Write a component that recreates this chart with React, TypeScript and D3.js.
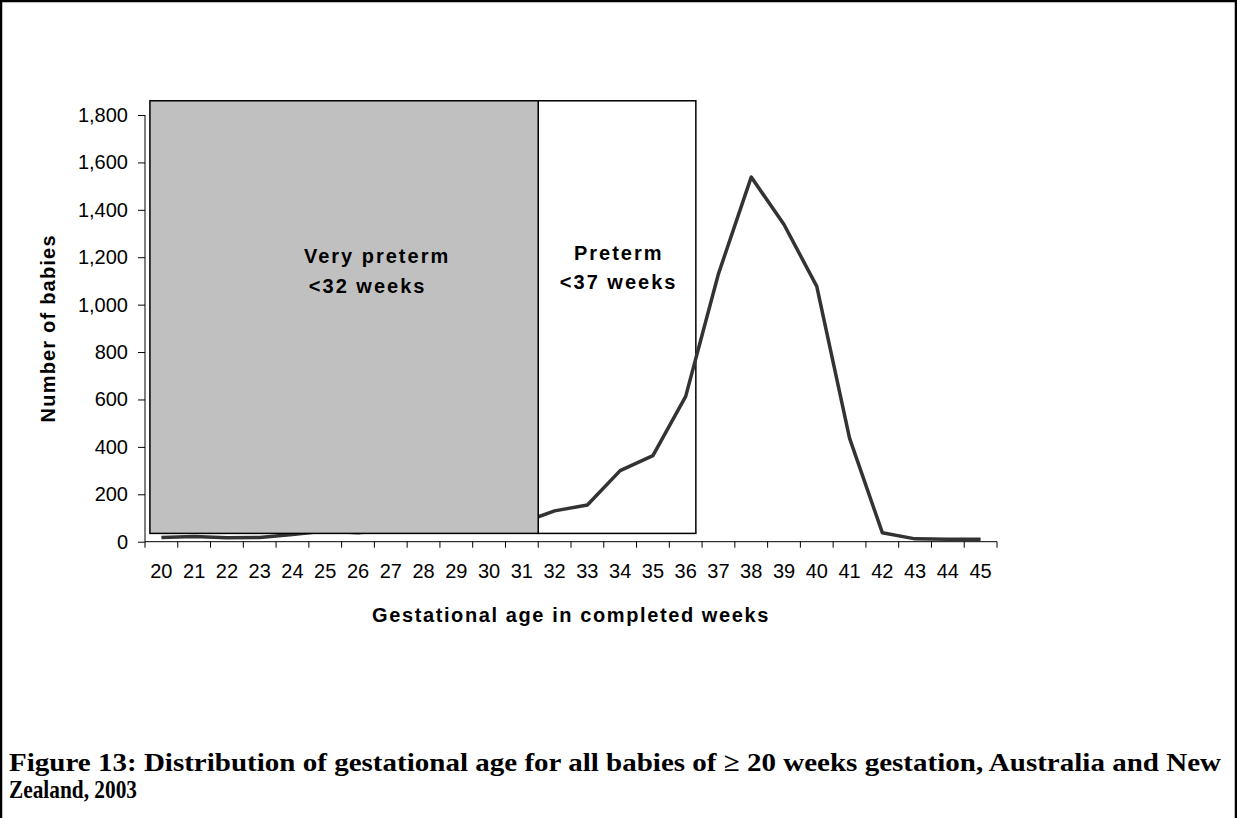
import { useEffect, useRef } from "react";
import * as d3 from "d3";

// gestational age in completed weeks
const weeks = [20, 21, 22, 23, 24, 25, 26, 27, 28, 29, 30, 31, 32, 33, 34, 35, 36, 37, 38, 39, 40, 41, 42, 43, 44, 45];
// number of babies
const babies = [18, 22, 17, 18, 30, 45, 38, 50, 55, 60, 75, 80, 130, 155, 300, 363, 613, 1130, 1538, 1338, 1077, 437, 38, 12, 10, 10];

const yTicks = [0, 200, 400, 600, 800, 1000, 1200, 1400, 1600, 1800];

// shaded regions: [x from, x to] in weeks, [y from, y to] in babies
const veryPretermBox = { x0: 19.65, x1: 31.5, y0: 35, y1: 1860 };
const pretermBox = { x0: 31.5, x1: 36.31, y0: 35, y1: 1860 };

const boxLabels = [
  { lines: ["Very preterm", "<32 weeks"], x: [24.35, 24.5], y: [1175, 1050] },
  { lines: ["Preterm", "<37 weeks"], x: [32.59, 32.16], y: [1190, 1065] },
];

const titleLines = [
  "Figure 13: Distribution of gestational age for all babies of \u2265 20 weeks gestation, Australia and New",
  "Zealand, 2003",
];

const W = 1237;
const H = 818;
const SANS = "'Liberation Sans', Arial, sans-serif";

export default function App() {
  const ref = useRef<SVGSVGElement>(null);

  useEffect(() => {
    if (!ref.current) return;
    const svg = d3.select(ref.current);
    svg.selectAll("*").remove();

    const x = d3.scaleLinear().domain([19.5, 45.5]).range([145, 997]);
    const y = d3.scaleLinear().domain([0, 1800]).range([541.7, 115]);

    svg.append("rect").attr("width", W).attr("height", H).attr("fill", "#fff");

    // frame
    svg.append("path")
      .attr("d", `M1,${H} V1 H${W - 1} V${H}`)
      .attr("fill", "none").attr("stroke", "#000").attr("stroke-width", 2.5);

    // preterm box (white)
    svg.append("rect")
      .attr("x", x(pretermBox.x0)).attr("y", y(pretermBox.y1))
      .attr("width", x(pretermBox.x1) - x(pretermBox.x0))
      .attr("height", y(pretermBox.y0) - y(pretermBox.y1))
      .attr("fill", "#fff").attr("stroke", "#000").attr("stroke-width", 1.5);

    // ── Line ──
    const pts = weeks.map((w, i) => ({ w, v: babies[i] }));
    const line = d3.line<{ w: number; v: number }>()
      .x((d) => x(d.w))
      .y((d) => y(d.v));
    svg.append("path").datum(pts)
      .attr("d", line)
      .attr("fill", "none")
      .attr("stroke", "#333")
      .attr("stroke-width", 3.5)
      .attr("stroke-linejoin", "round");

    // very preterm box (grey, covers the line)
    svg.append("rect")
      .attr("x", x(veryPretermBox.x0)).attr("y", y(veryPretermBox.y1))
      .attr("width", x(veryPretermBox.x1) - x(veryPretermBox.x0))
      .attr("height", y(veryPretermBox.y0) - y(veryPretermBox.y1))
      .attr("fill", "#c0c0c0").attr("stroke", "#000").attr("stroke-width", 1.5);

    // box labels
    boxLabels.forEach((b) => {
      b.lines.forEach((t, i) => {
        svg.append("text")
          .attr("x", x(b.x[i])).attr("y", y(b.y[i]))
          .attr("font-family", SANS).attr("font-size", 20).attr("font-weight", "bold")
          .attr("letter-spacing", 2)
          .attr("fill", "#000")
          .text(t);
      });
    });

    // ── Y axis ──
    const gy = svg.append("g").attr("transform", "translate(145,0)");
    gy.call(d3.axisLeft(y).tickValues(yTicks).tickSize(7).tickPadding(10)
      .tickFormat((v) => d3.format(",")(Number(v))))
      .call((ag) => ag.select(".domain").attr("d", `M0,${y(1800)}V${y(0)}`).attr("stroke", "#000"))
      .call((ag) => ag.selectAll(".tick line").attr("stroke", "#000"))
      .call((ag) => ag.selectAll(".tick text")
        .attr("font-family", SANS).attr("font-size", 20).attr("fill", "#000"));

    svg.append("text")
      .attr("transform", `translate(55,${(y(0) + y(1800)) / 2}) rotate(-90)`)
      .attr("text-anchor", "middle")
      .attr("font-family", SANS).attr("font-size", 20).attr("font-weight", "bold")
      .attr("letter-spacing", 1.2)
      .text("Number of babies");

    // ── X axis ──
    const boundaries = d3.range(19.5, 46, 1);
    const gx = svg.append("g").attr("transform", `translate(0,${y(0)})`);
    gx.append("line")
      .attr("x1", x(19.5)).attr("x2", x(45.5))
      .attr("stroke", "#000").attr("stroke-width", 1);
    gx.selectAll(".xt").data(boundaries).join("line")
      .attr("x1", (d) => x(d)).attr("x2", (d) => x(d))
      .attr("y1", 0).attr("y2", 6)
      .attr("stroke", "#000");
    gx.selectAll(".xl").data(weeks).join("text")
      .attr("x", (d) => x(d)).attr("y", 36)
      .attr("text-anchor", "middle")
      .attr("font-family", SANS).attr("font-size", 20)
      .text((d) => String(d));

    svg.append("text")
      .attr("x", (x(19.5) + x(45.5)) / 2).attr("y", 622)
      .attr("text-anchor", "middle")
      .attr("font-family", SANS).attr("font-size", 20).attr("font-weight", "bold")
      .attr("letter-spacing", 1.6)
      .text("Gestational age in completed weeks");

    // ── Title ──
    const lens = [1212, 128];
    titleLines.forEach((t, i) => {
      svg.append("text")
        .attr("x", 9).attr("y", 771 + i * 27)
        .attr("font-family", "'Liberation Serif', 'Times New Roman', serif")
        .attr("font-size", 26).attr("font-weight", "bold")
        .attr("textLength", lens[i]).attr("lengthAdjust", "spacingAndGlyphs")
        .text(t);
    });
  }, []);

  return (
    <svg
      ref={ref}
      width={W}
      height={H}
      style={{ position: "absolute", left: 0, top: 0 }}
    />
  );
}
